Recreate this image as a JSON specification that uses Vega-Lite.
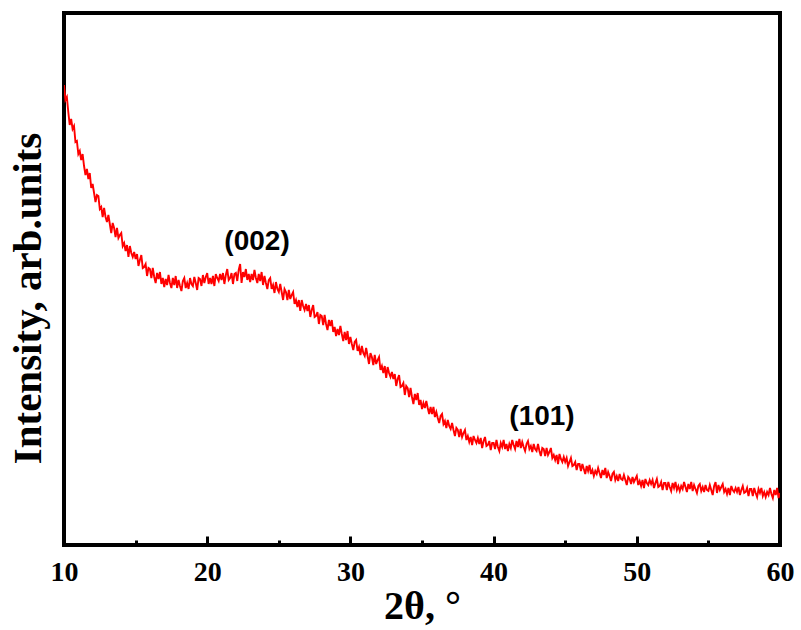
{
"$schema": "https://vega.github.io/schema/vega-lite/v6.json",
"width": 716, "height": 532,
"autosize": {"type": "none"},
"padding": {"left": 64, "top": 13, "right": 21, "bottom": 85},
"background": "white",
"config": {"view": {"stroke": "black", "strokeWidth": 4}, "font": "Liberation Serif"},
"layer": [
{"data": {"values": [
{"angle":10.0,"intensity":460},{"angle":10.1,"intensity":445},{"angle":10.2,"intensity":448},{"angle":10.3,"intensity":433},{"angle":10.4,"intensity":420},{"angle":10.5,"intensity":426},{"angle":10.6,"intensity":416},{"angle":10.7,"intensity":419},{"angle":10.8,"intensity":403},{"angle":10.9,"intensity":404},
{"angle":11.0,"intensity":391},{"angle":11.1,"intensity":394},{"angle":11.2,"intensity":385},{"angle":11.3,"intensity":391},{"angle":11.4,"intensity":379},{"angle":11.5,"intensity":370},{"angle":11.6,"intensity":376},{"angle":11.7,"intensity":366},{"angle":11.8,"intensity":372},{"angle":11.9,"intensity":357},
{"angle":12.0,"intensity":361},{"angle":12.1,"intensity":352},{"angle":12.2,"intensity":343},{"angle":12.3,"intensity":350},{"angle":12.4,"intensity":349},{"angle":12.5,"intensity":336},{"angle":12.6,"intensity":338},{"angle":12.7,"intensity":328},{"angle":12.8,"intensity":337},{"angle":12.9,"intensity":328},
{"angle":13.0,"intensity":323},{"angle":13.1,"intensity":330},{"angle":13.2,"intensity":321},{"angle":13.3,"intensity":312},{"angle":13.4,"intensity":322},{"angle":13.5,"intensity":317},{"angle":13.6,"intensity":308},{"angle":13.7,"intensity":317},{"angle":13.8,"intensity":307},{"angle":13.9,"intensity":310},
{"angle":14.0,"intensity":312},{"angle":14.1,"intensity":299},{"angle":14.2,"intensity":302},{"angle":14.3,"intensity":294},{"angle":14.4,"intensity":300},{"angle":14.5,"intensity":288},{"angle":14.6,"intensity":299},{"angle":14.7,"intensity":292},{"angle":14.8,"intensity":288},{"angle":14.9,"intensity":293},
{"angle":15.0,"intensity":286},{"angle":15.1,"intensity":291},{"angle":15.2,"intensity":279},{"angle":15.3,"intensity":285},{"angle":15.4,"intensity":290},{"angle":15.5,"intensity":277},{"angle":15.6,"intensity":278},{"angle":15.7,"intensity":281},{"angle":15.8,"intensity":269},{"angle":15.9,"intensity":277},
{"angle":16.0,"intensity":276},{"angle":16.1,"intensity":267},{"angle":16.2,"intensity":277},{"angle":16.3,"intensity":268},{"angle":16.4,"intensity":262},{"angle":16.5,"intensity":272},{"angle":16.6,"intensity":266},{"angle":16.7,"intensity":273},{"angle":16.8,"intensity":261},{"angle":16.9,"intensity":267},
{"angle":17.0,"intensity":258},{"angle":17.1,"intensity":266},{"angle":17.2,"intensity":260},{"angle":17.3,"intensity":270},{"angle":17.4,"intensity":262},{"angle":17.5,"intensity":257},{"angle":17.6,"intensity":267},{"angle":17.7,"intensity":260},{"angle":17.8,"intensity":269},{"angle":17.9,"intensity":257},
{"angle":18.0,"intensity":265},{"angle":18.1,"intensity":259},{"angle":18.2,"intensity":254},{"angle":18.3,"intensity":264},{"angle":18.4,"intensity":267},{"angle":18.5,"intensity":257},{"angle":18.6,"intensity":262},{"angle":18.7,"intensity":256},{"angle":18.8,"intensity":267},{"angle":18.9,"intensity":261},
{"angle":19.0,"intensity":259},{"angle":19.1,"intensity":268},{"angle":19.2,"intensity":262},{"angle":19.3,"intensity":255},{"angle":19.4,"intensity":267},{"angle":19.5,"intensity":266},{"angle":19.6,"intensity":259},{"angle":19.7,"intensity":270},{"angle":19.8,"intensity":262},{"angle":19.9,"intensity":268},
{"angle":20.0,"intensity":272},{"angle":20.1,"intensity":261},{"angle":20.2,"intensity":267},{"angle":20.3,"intensity":261},{"angle":20.4,"intensity":269},{"angle":20.5,"intensity":259},{"angle":20.6,"intensity":271},{"angle":20.7,"intensity":267},{"angle":20.8,"intensity":264},{"angle":20.9,"intensity":271},
{"angle":21.0,"intensity":265},{"angle":21.1,"intensity":272},{"angle":21.2,"intensity":261},{"angle":21.3,"intensity":270},{"angle":21.4,"intensity":276},{"angle":21.5,"intensity":265},{"angle":21.6,"intensity":267},{"angle":21.7,"intensity":272},{"angle":21.8,"intensity":261},{"angle":21.9,"intensity":271},
{"angle":22.0,"intensity":272},{"angle":22.1,"intensity":264},{"angle":22.2,"intensity":275},{"angle":22.3,"intensity":281},{"angle":22.4,"intensity":262},{"angle":22.5,"intensity":273},{"angle":22.6,"intensity":268},{"angle":22.7,"intensity":276},{"angle":22.8,"intensity":265},{"angle":22.9,"intensity":271},
{"angle":23.0,"intensity":263},{"angle":23.1,"intensity":271},{"angle":23.2,"intensity":265},{"angle":23.3,"intensity":275},{"angle":23.4,"intensity":267},{"angle":23.5,"intensity":262},{"angle":23.6,"intensity":271},{"angle":23.7,"intensity":264},{"angle":23.8,"intensity":273},{"angle":23.9,"intensity":260},
{"angle":24.0,"intensity":269},{"angle":24.1,"intensity":262},{"angle":24.2,"intensity":256},{"angle":24.3,"intensity":265},{"angle":24.4,"intensity":267},{"angle":24.5,"intensity":256},{"angle":24.6,"intensity":260},{"angle":24.7,"intensity":252},{"angle":24.8,"intensity":263},{"angle":24.9,"intensity":256},
{"angle":25.0,"intensity":253},{"angle":25.1,"intensity":261},{"angle":25.2,"intensity":253},{"angle":25.3,"intensity":245},{"angle":25.4,"intensity":256},{"angle":25.5,"intensity":253},{"angle":25.6,"intensity":245},{"angle":25.7,"intensity":255},{"angle":25.8,"intensity":246},{"angle":25.9,"intensity":250},
{"angle":26.0,"intensity":253},{"angle":26.1,"intensity":241},{"angle":26.2,"intensity":245},{"angle":26.3,"intensity":238},{"angle":26.4,"intensity":245},{"angle":26.5,"intensity":234},{"angle":26.6,"intensity":245},{"angle":26.7,"intensity":239},{"angle":26.8,"intensity":235},{"angle":26.9,"intensity":241},
{"angle":27.0,"intensity":234},{"angle":27.1,"intensity":240},{"angle":27.2,"intensity":228},{"angle":27.3,"intensity":235},{"angle":27.4,"intensity":240},{"angle":27.5,"intensity":228},{"angle":27.6,"intensity":229},{"angle":27.7,"intensity":233},{"angle":27.8,"intensity":221},{"angle":27.9,"intensity":230},
{"angle":28.0,"intensity":229},{"angle":28.1,"intensity":220},{"angle":28.2,"intensity":230},{"angle":28.3,"intensity":221},{"angle":28.4,"intensity":215},{"angle":28.5,"intensity":225},{"angle":28.6,"intensity":219},{"angle":28.7,"intensity":225},{"angle":28.8,"intensity":213},{"angle":28.9,"intensity":218},
{"angle":29.0,"intensity":209},{"angle":29.1,"intensity":216},{"angle":29.2,"intensity":210},{"angle":29.3,"intensity":219},{"angle":29.4,"intensity":211},{"angle":29.5,"intensity":204},{"angle":29.6,"intensity":213},{"angle":29.7,"intensity":205},{"angle":29.8,"intensity":214},{"angle":29.9,"intensity":201},
{"angle":30.0,"intensity":208},{"angle":30.1,"intensity":201},{"angle":30.2,"intensity":195},{"angle":30.3,"intensity":203},{"angle":30.4,"intensity":205},{"angle":30.5,"intensity":194},{"angle":30.6,"intensity":198},{"angle":30.7,"intensity":190},{"angle":30.8,"intensity":199},{"angle":30.9,"intensity":192},
{"angle":31.0,"intensity":189},{"angle":31.1,"intensity":197},{"angle":31.2,"intensity":189},{"angle":31.3,"intensity":181},{"angle":31.4,"intensity":192},{"angle":31.5,"intensity":188},{"angle":31.6,"intensity":180},{"angle":31.7,"intensity":190},{"angle":31.8,"intensity":181},{"angle":31.9,"intensity":185},
{"angle":32.0,"intensity":188},{"angle":32.1,"intensity":175},{"angle":32.2,"intensity":179},{"angle":32.3,"intensity":172},{"angle":32.4,"intensity":179},{"angle":32.5,"intensity":167},{"angle":32.6,"intensity":178},{"angle":32.7,"intensity":172},{"angle":32.8,"intensity":168},{"angle":32.9,"intensity":173},
{"angle":33.0,"intensity":166},{"angle":33.1,"intensity":171},{"angle":33.2,"intensity":159},{"angle":33.3,"intensity":166},{"angle":33.4,"intensity":170},{"angle":33.5,"intensity":158},{"angle":33.6,"intensity":159},{"angle":33.7,"intensity":162},{"angle":33.8,"intensity":150},{"angle":33.9,"intensity":159},
{"angle":34.0,"intensity":157},{"angle":34.1,"intensity":148},{"angle":34.2,"intensity":157},{"angle":34.3,"intensity":148},{"angle":34.4,"intensity":141},{"angle":34.5,"intensity":151},{"angle":34.6,"intensity":145},{"angle":34.7,"intensity":152},{"angle":34.8,"intensity":140},{"angle":34.9,"intensity":145},
{"angle":35.0,"intensity":136},{"angle":35.1,"intensity":142},{"angle":35.2,"intensity":137},{"angle":35.3,"intensity":144},{"angle":35.4,"intensity":137},{"angle":35.5,"intensity":131},{"angle":35.6,"intensity":138},{"angle":35.7,"intensity":131},{"angle":35.8,"intensity":138},{"angle":35.9,"intensity":128},
{"angle":36.0,"intensity":133},{"angle":36.1,"intensity":127},{"angle":36.2,"intensity":122},{"angle":36.3,"intensity":129},{"angle":36.4,"intensity":131},{"angle":36.5,"intensity":121},{"angle":36.6,"intensity":124},{"angle":36.7,"intensity":117},{"angle":36.8,"intensity":125},{"angle":36.9,"intensity":119},
{"angle":37.0,"intensity":116},{"angle":37.1,"intensity":122},{"angle":37.2,"intensity":115},{"angle":37.3,"intensity":109},{"angle":37.4,"intensity":117},{"angle":37.5,"intensity":115},{"angle":37.6,"intensity":108},{"angle":37.7,"intensity":116},{"angle":37.8,"intensity":108},{"angle":37.9,"intensity":112},
{"angle":38.0,"intensity":115},{"angle":38.1,"intensity":105},{"angle":38.2,"intensity":109},{"angle":38.3,"intensity":103},{"angle":38.4,"intensity":108},{"angle":38.5,"intensity":100},{"angle":38.6,"intensity":109},{"angle":38.7,"intensity":105},{"angle":38.8,"intensity":102},{"angle":38.9,"intensity":107},
{"angle":39.0,"intensity":101},{"angle":39.1,"intensity":107},{"angle":39.2,"intensity":97},{"angle":39.3,"intensity":104},{"angle":39.4,"intensity":108},{"angle":39.5,"intensity":99},{"angle":39.6,"intensity":100},{"angle":39.7,"intensity":104},{"angle":39.8,"intensity":95},{"angle":39.9,"intensity":102},
{"angle":40.0,"intensity":102},{"angle":40.1,"intensity":96},{"angle":40.2,"intensity":105},{"angle":40.3,"intensity":98},{"angle":40.4,"intensity":94},{"angle":40.5,"intensity":102},{"angle":40.6,"intensity":98},{"angle":40.7,"intensity":105},{"angle":40.8,"intensity":96},{"angle":40.9,"intensity":101},
{"angle":41.0,"intensity":94},{"angle":41.1,"intensity":101},{"angle":41.2,"intensity":97},{"angle":41.3,"intensity":105},{"angle":41.4,"intensity":100},{"angle":41.5,"intensity":96},{"angle":41.6,"intensity":104},{"angle":41.7,"intensity":98},{"angle":41.8,"intensity":106},{"angle":41.9,"intensity":97},
{"angle":42.0,"intensity":103},{"angle":42.1,"intensity":98},{"angle":42.2,"intensity":94},{"angle":42.3,"intensity":101},{"angle":42.4,"intensity":104},{"angle":42.5,"intensity":96},{"angle":42.6,"intensity":99},{"angle":42.7,"intensity":93},{"angle":42.8,"intensity":101},{"angle":42.9,"intensity":96},
{"angle":43.0,"intensity":94},{"angle":43.1,"intensity":101},{"angle":43.2,"intensity":94},{"angle":43.3,"intensity":89},{"angle":43.4,"intensity":97},{"angle":43.5,"intensity":96},{"angle":43.6,"intensity":89},{"angle":43.7,"intensity":97},{"angle":43.8,"intensity":90},{"angle":43.9,"intensity":93},
{"angle":44.0,"intensity":97},{"angle":44.1,"intensity":87},{"angle":44.2,"intensity":90},{"angle":44.3,"intensity":85},{"angle":44.4,"intensity":90},{"angle":44.5,"intensity":81},{"angle":44.6,"intensity":91},{"angle":44.7,"intensity":86},{"angle":44.8,"intensity":83},{"angle":44.9,"intensity":88},
{"angle":45.0,"intensity":83},{"angle":45.1,"intensity":87},{"angle":45.2,"intensity":79},{"angle":45.3,"intensity":83},{"angle":45.4,"intensity":87},{"angle":45.5,"intensity":79},{"angle":45.6,"intensity":80},{"angle":45.7,"intensity":83},{"angle":45.8,"intensity":75},{"angle":45.9,"intensity":81},
{"angle":46.0,"intensity":81},{"angle":46.1,"intensity":74},{"angle":46.2,"intensity":81},{"angle":46.3,"intensity":76},{"angle":46.4,"intensity":71},{"angle":46.5,"intensity":79},{"angle":46.6,"intensity":74},{"angle":46.7,"intensity":80},{"angle":46.8,"intensity":71},{"angle":46.9,"intensity":75},
{"angle":47.0,"intensity":69},{"angle":47.1,"intensity":74},{"angle":47.2,"intensity":71},{"angle":47.3,"intensity":77},{"angle":47.4,"intensity":72},{"angle":47.5,"intensity":67},{"angle":47.6,"intensity":75},{"angle":47.7,"intensity":70},{"angle":47.8,"intensity":77},{"angle":47.9,"intensity":67},
{"angle":48.0,"intensity":73},{"angle":48.1,"intensity":69},{"angle":48.2,"intensity":64},{"angle":48.3,"intensity":71},{"angle":48.4,"intensity":73},{"angle":48.5,"intensity":65},{"angle":48.6,"intensity":69},{"angle":48.7,"intensity":64},{"angle":48.8,"intensity":71},{"angle":48.9,"intensity":66},
{"angle":49.0,"intensity":65},{"angle":49.1,"intensity":70},{"angle":49.2,"intensity":65},{"angle":49.3,"intensity":60},{"angle":49.4,"intensity":68},{"angle":49.5,"intensity":66},{"angle":49.6,"intensity":61},{"angle":49.7,"intensity":68},{"angle":49.8,"intensity":63},{"angle":49.9,"intensity":66},
{"angle":50.0,"intensity":69},{"angle":50.1,"intensity":60},{"angle":50.2,"intensity":64},{"angle":50.3,"intensity":59},{"angle":50.4,"intensity":65},{"angle":50.5,"intensity":57},{"angle":50.6,"intensity":66},{"angle":50.7,"intensity":62},{"angle":50.8,"intensity":60},{"angle":50.9,"intensity":65},
{"angle":51.0,"intensity":61},{"angle":51.1,"intensity":65},{"angle":51.2,"intensity":57},{"angle":51.3,"intensity":62},{"angle":51.4,"intensity":66},{"angle":51.5,"intensity":58},{"angle":51.6,"intensity":59},{"angle":51.7,"intensity":63},{"angle":51.8,"intensity":55},{"angle":51.9,"intensity":62},
{"angle":52.0,"intensity":62},{"angle":52.1,"intensity":55},{"angle":52.2,"intensity":63},{"angle":52.3,"intensity":58},{"angle":52.4,"intensity":54},{"angle":52.5,"intensity":62},{"angle":52.6,"intensity":57},{"angle":52.7,"intensity":63},{"angle":52.8,"intensity":55},{"angle":52.9,"intensity":59},
{"angle":53.0,"intensity":54},{"angle":53.1,"intensity":59},{"angle":53.2,"intensity":56},{"angle":53.3,"intensity":63},{"angle":53.4,"intensity":58},{"angle":53.5,"intensity":53},{"angle":53.6,"intensity":61},{"angle":53.7,"intensity":56},{"angle":53.8,"intensity":63},{"angle":53.9,"intensity":54},
{"angle":54.0,"intensity":60},{"angle":54.1,"intensity":56},{"angle":54.2,"intensity":52},{"angle":54.3,"intensity":59},{"angle":54.4,"intensity":61},{"angle":54.5,"intensity":54},{"angle":54.6,"intensity":58},{"angle":54.7,"intensity":53},{"angle":54.8,"intensity":60},{"angle":54.9,"intensity":55},
{"angle":55.0,"intensity":54},{"angle":55.1,"intensity":60},{"angle":55.2,"intensity":55},{"angle":55.3,"intensity":50},{"angle":55.4,"intensity":59},{"angle":55.5,"intensity":63},{"angle":55.6,"intensity":52},{"angle":55.7,"intensity":60},{"angle":55.8,"intensity":55},{"angle":55.9,"intensity":58},
{"angle":56.0,"intensity":61},{"angle":56.1,"intensity":53},{"angle":56.2,"intensity":56},{"angle":56.3,"intensity":51},{"angle":56.4,"intensity":57},{"angle":56.5,"intensity":50},{"angle":56.6,"intensity":59},{"angle":56.7,"intensity":55},{"angle":56.8,"intensity":53},{"angle":56.9,"intensity":57},
{"angle":57.0,"intensity":53},{"angle":57.1,"intensity":58},{"angle":57.2,"intensity":50},{"angle":57.3,"intensity":55},{"angle":57.4,"intensity":59},{"angle":57.5,"intensity":52},{"angle":57.6,"intensity":53},{"angle":57.7,"intensity":57},{"angle":57.8,"intensity":49},{"angle":57.9,"intensity":56},
{"angle":58.0,"intensity":56},{"angle":58.1,"intensity":49},{"angle":58.2,"intensity":57},{"angle":58.3,"intensity":52},{"angle":58.4,"intensity":48},{"angle":58.5,"intensity":56},{"angle":58.6,"intensity":52},{"angle":58.7,"intensity":57},{"angle":58.8,"intensity":49},{"angle":58.9,"intensity":53},
{"angle":59.0,"intensity":48},{"angle":59.1,"intensity":53},{"angle":59.2,"intensity":50},{"angle":59.3,"intensity":57},{"angle":59.4,"intensity":51},{"angle":59.5,"intensity":47},{"angle":59.6,"intensity":55},{"angle":59.7,"intensity":50},{"angle":59.8,"intensity":57},{"angle":59.9,"intensity":47},
{"angle":60.0,"intensity":52}
]},
"mark": {"type": "line", "color": "#ff0000", "strokeWidth": 1.9, "clip": true},
"encoding": {
"x": {"field": "angle", "type": "quantitative", "scale": {"domain": [10, 60], "nice": false, "zero": false},
"axis": {"values": [10, 15, 20, 25, 30, 35, 40, 45, 50, 55, 60], "grid": false, "domain": false, "tickColor": "black", "tickWidth": 3,
"tickSize": {"condition": {"test": "datum.value % 10 === 0", "value": -9}, "value": -5},
"labelExpr": "datum.value % 10 === 0 ? datum.label : ''", "labelFont": "Liberation Serif", "labelFontWeight": "bold", "labelFontSize": 28, "labelColor": "black", "labelPadding": 22, "labelFlush": false, "labelOverlap": false,
"title": "2θ, °", "titleFont": "Liberation Serif", "titleFontSize": 40, "titleFontWeight": "bold", "titleColor": "black", "titleX": 358, "titleY": 73, "titleBaseline": "alphabetic", "titleAlign": "center"}},
"y": {"field": "intensity", "type": "quantitative", "scale": {"domain": [0, 532], "nice": false},
"axis": {"ticks": false, "labels": false, "domain": false, "grid": false,
"title": "Intensity, arb.units", "titleFont": "Liberation Serif", "titleFontSize": 41, "titleFontWeight": "bold", "titleColor": "black", "titleAngle": -90, "titleX": -24, "titleY": 285, "titleBaseline": "alphabetic", "titleAlign": "center"}}
}},
{"data": {"values": [{"angle": 23.48, "intensity": 295, "label": "(002)"}, {"angle": 43.38, "intensity": 120, "label": "(101)"}]},
"mark": {"type": "text", "font": "Liberation Sans", "fontSize": 28, "fontWeight": "bold", "baseline": "alphabetic", "align": "center", "color": "black"},
"encoding": {"x": {"field": "angle", "type": "quantitative"}, "y": {"field": "intensity", "type": "quantitative"}, "text": {"field": "label"}}}
]
}
